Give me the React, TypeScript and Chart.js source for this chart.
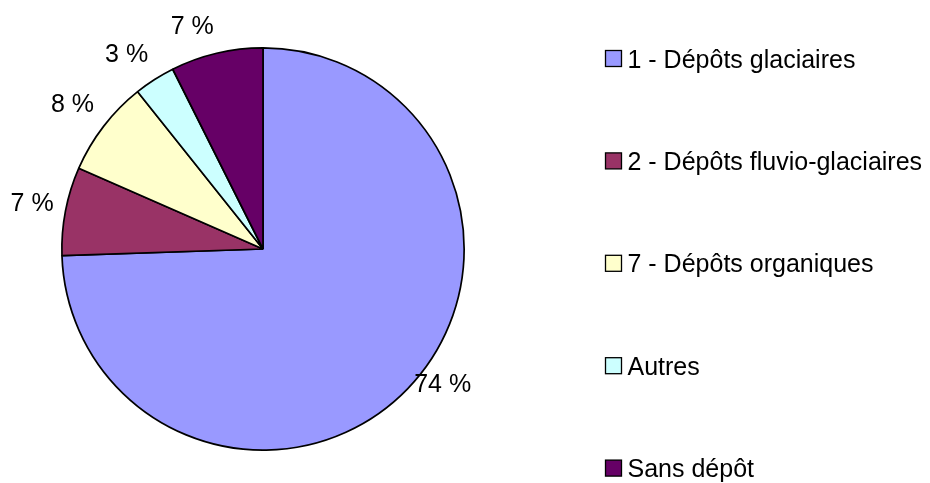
import React, { useEffect, useRef } from "react";
import { Chart, registerables } from "chart.js";

Chart.register(...registerables);

const categories = [
  "1 - Dépôts glaciaires",
  "2 - Dépôts fluvio-glaciaires",
  "7 - Dépôts organiques",
  "Autres",
  "Sans dépôt",
];
const shares = [74.4, 7.1, 7.7, 3.3, 7.4];
const colors = ["#9999FF", "#993366", "#FFFFCC", "#CCFFFF", "#660066"];

const FONT = '25px "Liberation Sans", Arial, sans-serif';

const labelPlugin = {
  id: "outsideLabels",
  afterDatasetsDraw(chart: any) {
    const ctx = chart.ctx;
    const meta = chart.getDatasetMeta(0);
    const data = chart.data.datasets[0].data as number[];
    const total = data.reduce((a, b) => a + b, 0);
    ctx.save();
    ctx.font = FONT;
    ctx.fillStyle = "#000";
    ctx.textAlign = "center";
    ctx.textBaseline = "middle";
    meta.data.forEach((arc: any, i: number) => {
      const { x, y, startAngle, endAngle, outerRadius } = arc.getProps(
        ["x", "y", "startAngle", "endAngle", "outerRadius"],
        true
      );
      const pct = Math.round((data[i] / total) * 100);
      const text = pct + " %";
      let mid = (startAngle + endAngle) / 2;
      let cx: number, cy: number;
      if (i === 0) {
        mid -= (7 * Math.PI) / 180;
        const r = outerRadius + 24;
        cx = x + Math.cos(mid) * r;
        cy = y + Math.sin(mid) * r;
      } else {
        const w = ctx.measureText(text).width;
        const h = 28;
        const r = outerRadius + 12;
        const dx = Math.cos(mid);
        const dy = Math.sin(mid);
        const px = x + dx * r;
        const py = y + dy * r;
        cx = px + Math.sign(dx) * (w / 2);
        cy = py + (h / 2) * Math.max(-1, Math.min(1, dy * 1.8));
      }
      ctx.fillText(text, cx, cy);
    });
    ctx.restore();
  },
};

const legendPlugin = {
  id: "sideLegend",
  afterDraw(chart: any) {
    const ctx = chart.ctx;
    const labels = chart.data.labels as string[];
    const bg = chart.data.datasets[0].backgroundColor as string[];
    ctx.save();
    ctx.font = FONT;
    ctx.textBaseline = "alphabetic";
    labels.forEach((lab, i) => {
      const cy = 58.5 + i * 102.4;
      ctx.fillStyle = bg[i];
      ctx.fillRect(605.5, cy - 8, 16, 16);
      ctx.strokeStyle = "#000";
      ctx.lineWidth = 1.3;
      ctx.strokeRect(605.5, cy - 8, 16, 16);
      ctx.fillStyle = "#000";
      ctx.textAlign = "left";
      ctx.fillText(lab, 627.5, cy + 9);
    });
    ctx.restore();
  },
};

export default function App() {
  const ref = useRef<HTMLCanvasElement | null>(null);
  useEffect(() => {
    if (!ref.current) return;
    const chart = new Chart(ref.current, {
      type: "pie",
      data: {
        labels: categories,
        datasets: [
          {
            data: shares,
            backgroundColor: colors,
            borderColor: "#000",
            borderWidth: 1.7,
          },
        ],
      },
      options: {
        animation: false,
        responsive: false,
        maintainAspectRatio: false,
        layout: { padding: { left: 61, top: 47, right: 465, bottom: 32 } },
        plugins: {
          legend: { display: false },
          tooltip: { enabled: false },
        },
      },
      plugins: [labelPlugin, legendPlugin],
    });
    return () => chart.destroy();
  }, []);
  return (
    <div
      style={{
        position: "fixed",
        left: 0,
        top: 0,
        width: 930,
        height: 483,
        background: "#fff",
      }}
    >
      <canvas ref={ref} width={930} height={483} style={{ width: 930, height: 483 }} />
    </div>
  );
}
